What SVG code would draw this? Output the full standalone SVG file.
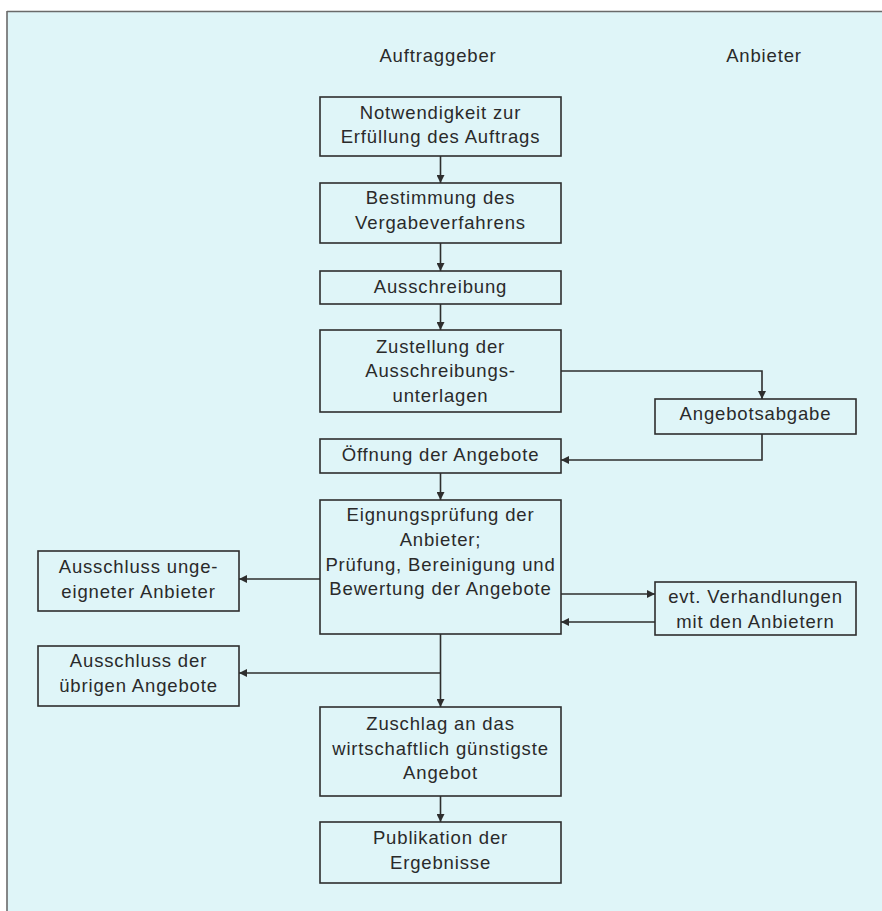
<svg xmlns="http://www.w3.org/2000/svg" width="882" height="911" viewBox="0 0 882 911">
<style>
.bg{fill:#dff5f8}
.box{fill:none;stroke:#2e2e2e;stroke-width:1.6}
.t{font-family:"Liberation Sans",Arial,sans-serif;font-size:18.5px;letter-spacing:0.85px;fill:#2a2a2a;text-anchor:middle}
.c{fill:none;stroke:#2e2e2e;stroke-width:1.6}
</style>
<defs>
<marker id="ah" viewBox="0 0 10 10" refX="10" refY="5" markerWidth="8" markerHeight="8" markerUnits="userSpaceOnUse" orient="auto">
<path d="M0,0 L10,5 L0,10 Z" fill="#2e2e2e"/>
</marker>
</defs>
<rect x="0" y="0" width="882" height="911" fill="#ffffff"/>
<rect class="bg" x="7" y="11" width="875" height="900"/>
<line x1="7" y1="11.5" x2="882" y2="11.5" stroke="#6a6a6a" stroke-width="1.6"/>
<line x1="7" y1="11" x2="7" y2="911" stroke="#6a6a6a" stroke-width="1.6"/>

<g id="headers">
<text class="t" x="438" y="62">Auftraggeber</text>
<text class="t" x="764" y="62">Anbieter</text>
</g>

<g id="n1"><rect class="box" x="320" y="97" width="241" height="59"/>
<text class="t" x="440.5" y="118.5">Notwendigkeit zur</text>
<text class="t" x="440.5" y="143">Erfüllung des Auftrags</text></g>

<g id="n2"><rect class="box" x="320" y="183" width="241" height="60"/>
<text class="t" x="440.5" y="203.5">Bestimmung des</text>
<text class="t" x="440.5" y="228.5">Vergabeverfahrens</text></g>

<g id="n3"><rect class="box" x="320" y="271" width="241" height="33"/>
<text class="t" x="440.5" y="292.5">Ausschreibung</text></g>

<g id="n4"><rect class="box" x="320" y="330" width="241" height="82"/>
<text class="t" x="440.5" y="352.7">Zustellung der</text>
<text class="t" x="440.5" y="377.3">Ausschreibungs-</text>
<text class="t" x="440.5" y="401.7">unterlagen</text></g>

<g id="n7"><rect class="box" x="655" y="399" width="201" height="35"/>
<text class="t" x="755.5" y="420">Angebotsabgabe</text></g>

<g id="n5"><rect class="box" x="320" y="439" width="241" height="34"/>
<text class="t" x="440.5" y="460.7">Öffnung der Angebote</text></g>

<g id="n6"><rect class="box" x="320" y="500" width="241" height="134"/>
<text class="t" x="440.5" y="521">Eignungsprüfung der</text>
<text class="t" x="440.5" y="546">Anbieter;</text>
<text class="t" x="440.5" y="570.7">Prüfung, Bereinigung und</text>
<text class="t" x="440.5" y="595">Bewertung der Angebote</text></g>

<g id="n8"><rect class="box" x="655" y="582" width="201" height="53"/>
<text class="t" x="755.5" y="603.3">evt. Verhandlungen</text>
<text class="t" x="755.5" y="628.3">mit den Anbietern</text></g>

<g id="n9"><rect class="box" x="38" y="551" width="201" height="60"/>
<text class="t" x="138.5" y="572.7">Ausschluss unge-</text>
<text class="t" x="138.5" y="597.7">eigneter Anbieter</text></g>

<g id="n10"><rect class="box" x="38" y="646" width="201" height="60"/>
<text class="t" x="138.5" y="666.7">Ausschluss der</text>
<text class="t" x="138.5" y="691.7">übrigen Angebote</text></g>

<g id="n11"><rect class="box" x="320" y="707" width="241" height="89"/>
<text class="t" x="440.5" y="730">Zuschlag an das</text>
<text class="t" x="440.5" y="755">wirtschaftlich günstigste</text>
<text class="t" x="440.5" y="779.3">Angebot</text></g>

<g id="n12"><rect class="box" x="320" y="822" width="241" height="61"/>
<text class="t" x="440.5" y="844.3">Publikation der</text>
<text class="t" x="440.5" y="869.3">Ergebnisse</text></g>

<g id="connectors">
<path class="c" d="M440.5,156 V183" marker-end="url(#ah)"/>
<path class="c" d="M440.5,243 V271" marker-end="url(#ah)"/>
<path class="c" d="M440.5,304 V330" marker-end="url(#ah)"/>
<path class="c" d="M561,371 H762 V399" marker-end="url(#ah)"/>
<path class="c" d="M762,434 V460 H561" marker-end="url(#ah)"/>
<path class="c" d="M440.5,473 V500" marker-end="url(#ah)"/>
<path class="c" d="M561,594 H655" marker-end="url(#ah)"/>
<path class="c" d="M655,622 H561" marker-end="url(#ah)"/>
<path class="c" d="M320,579 H239" marker-end="url(#ah)"/>
<path class="c" d="M440.5,634 V707" marker-end="url(#ah)"/>
<path class="c" d="M440.5,673 H239" marker-end="url(#ah)"/>
<path class="c" d="M440.5,796 V822" marker-end="url(#ah)"/>
</g>
</svg>
